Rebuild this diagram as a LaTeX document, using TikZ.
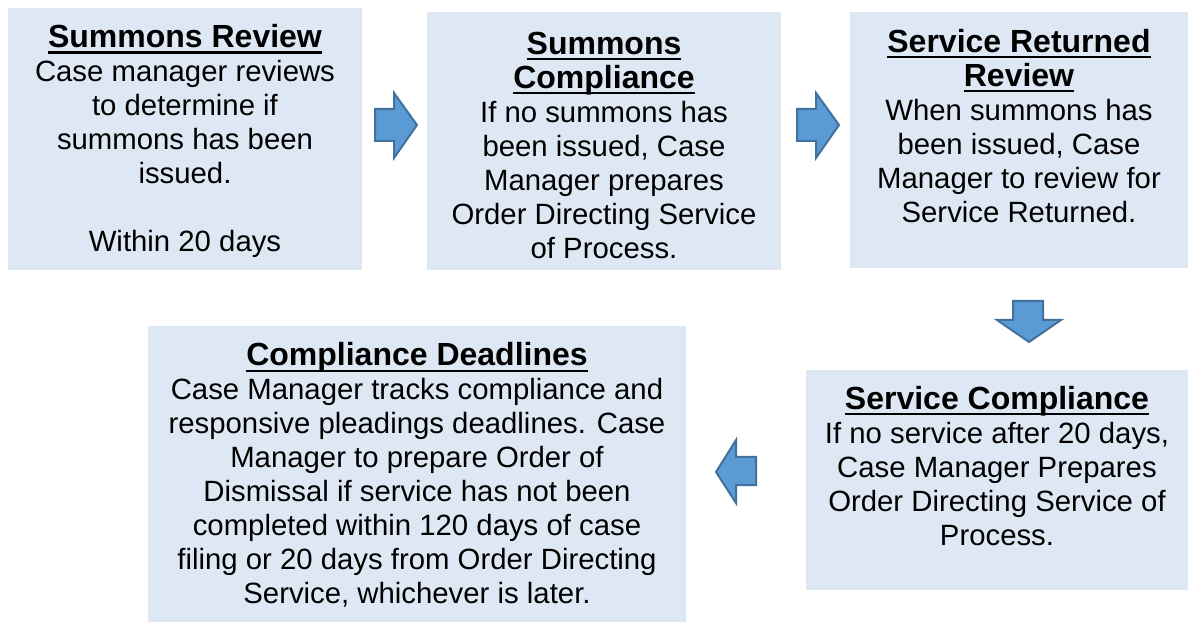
\documentclass[tikz,border=0pt]{standalone}
\usepackage{fontspec}
\setmainfont{Liberation Sans}
\definecolor{boxfill}{HTML}{DEE8F4}
\definecolor{arrfill}{HTML}{5B9BD5}
\definecolor{arrline}{HTML}{41719C}
\newcommand\myul[1]{\leavevmode\setbox0\hbox{#1}\rlap{\rule[-4.5pt]{\wd0}{1.6pt}}\box0}
\newcommand\ttl[1]{{\fontsize{24pt}{25.5pt}\selectfont\bfseries\myul{#1}}}
\begin{document}
\begin{tikzpicture}[x=0.75pt,y=-0.75pt,
  card/.style={fill=boxfill,draw=none},
  txt/.style={align=center,font=\fontsize{22pt}{25.5pt}\selectfont,inner sep=0pt},
  blockarr/.style={fill=arrfill,draw=arrline,line width=1.5pt,line join=miter}]
\useasboundingbox (0,0) rectangle (1196,623);
% boxes
\path[card] (8,8) rectangle (362,270);
\path[card] (427,12) rectangle (781,270);
\path[card] (850,12) rectangle (1188,268);
\path[card] (806,370) rectangle (1188,590);
\path[card] (148,326) rectangle (686,622);
% texts
\node[txt] (t1) at (185,141) {\ttl{Summons Review}\\Case manager reviews\\to determine if\\summons has been\\issued.\\[25.5pt]Within 20 days};
\node[txt] (t2) at (604,145) {\ttl{Summons}\\\ttl{Compliance}\\If no summons has\\been issued, Case\\Manager prepares\\Order Directing Service\\of Process.};
\node[txt] (t3) at (1019,126) {\ttl{Service Returned}\\\ttl{Review}\\When summons has\\been issued, Case\\Manager to review for\\Service Returned.};
\node[txt] (t4) at (997,466) {\ttl{Service Compliance}\\If no service after 20 days,\\Case Manager Prepares\\Order Directing Service of\\Process.};
\node[txt] (t5) at (417,475) {\ttl{Compliance Deadlines}\\Case Manager tracks compliance and\\responsive pleadings deadlines. Case\\Manager to prepare Order of\\Dismissal if service has not been\\completed within 120 days of case\\filing or 20 days from Order Directing\\Service, whichever is later.};
% block arrows
\draw[blockarr] (375,109) -- (394,109) -- (394,93) -- (417,125) -- (394,158) -- (394,141) -- (375,141) -- cycle;
\draw[blockarr] (797,109) -- (816,109) -- (816,93) -- (839,125) -- (816,158) -- (816,141) -- (797,141) -- cycle;
\draw[blockarr] (1013,301) -- (1043,301) -- (1043,320) -- (1061,320) -- (1029,342) -- (997,320) -- (1013,320) -- cycle;
\draw[blockarr] (756,457) -- (736,457) -- (736,440) -- (716,472) -- (736,503) -- (736,485) -- (756,485) -- cycle;
\end{tikzpicture}
\end{document}
